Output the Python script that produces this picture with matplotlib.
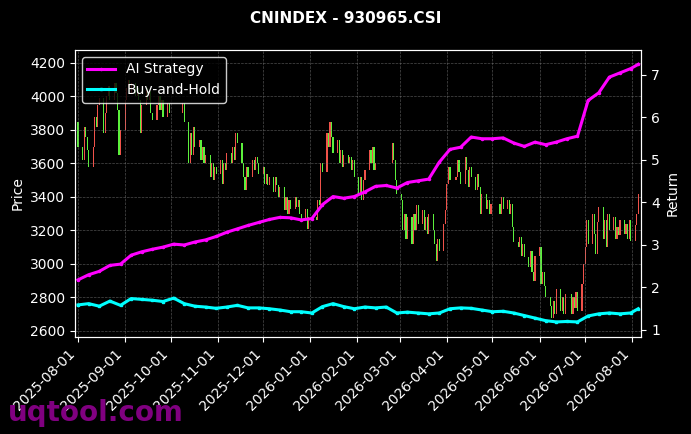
import pandas as pd
import matplotlib
matplotlib.use("Agg")
import matplotlib.pyplot as plt
import matplotlib.dates as mdates

title = "CNINDEX - 930965.CSI"

# exchange holidays removed from the weekday calendar
holidays = ["2025-10-01", "2025-10-02", "2025-10-03", "2025-10-06", "2025-10-07", "2025-10-08",
            "2026-01-01", "2026-01-02",
            "2026-02-16", "2026-02-17", "2026-02-18", "2026-02-19", "2026-02-20", "2026-02-23",
            "2026-04-06", "2026-05-01", "2026-05-04", "2026-05-05", "2026-06-19"]

# daily closes, month by month
first_open = 3850
close_2025_08 = [3700, 3620, 3820, 3760, 3680, 3580, 3700, 3880, 3820, 3950, 3990,
                 3780, 3900, 4000, 4060, 3980, 4080, 4020, 3920, 3650, 3800]
close_2025_09 = [3980, 4050, 4100, 4020, 4080, 4000, 4050, 3980, 3780, 3950, 4050,
                 3980, 4030, 3900, 3860, 3950, 4000, 3920, 3980, 3880, 3960, 3900]
close_2025_10 = [3960, 3850, 3600, 3780, 3650, 3820, 3700, 3740, 3620, 3700, 3600,
                 3650, 3520, 3600, 3500, 3580, 3540]
close_2025_11 = [3620, 3480, 3600, 3560, 3660, 3600, 3700, 3620, 3780, 3720, 3600,
                 3520, 3440, 3580, 3520, 3620, 3560, 3640, 3600, 3540]
close_2025_12 = [3580, 3480, 3540, 3470, 3520, 3430, 3520, 3470, 3400, 3460, 3320,
                 3400, 3300, 3380, 3330, 3400, 3340, 3380, 3300, 3260, 3330, 3210, 3280]
close_2026_01 = [3260, 3380, 3350, 3600, 3550, 3780, 3700, 3850, 3760, 3660, 3740,
                 3600, 3680, 3580, 3650, 3600, 3640, 3560, 3620, 3520]
close_2026_02 = [3420, 3520, 3380, 3500, 3560, 3680, 3600, 3700, 3560, 3600, 3720,
                 3620, 3500, 3420]
close_2026_03 = [3380, 3200, 3300, 3150, 3280, 3120, 3300, 3200, 3350, 3240, 3320,
                 3200, 3280, 3180, 3300, 3200, 3120, 3020, 3150, 3080, 3240, 3320]
close_2026_04 = [3480, 3580, 3500, 3520, 3620, 3550, 3480, 3640, 3560, 3460, 3580,
                 3520, 3440, 3540, 3460, 3300, 3420, 3330, 3380, 3300, 3360]
close_2026_05 = [3300, 3400, 3330, 3380, 3300, 3360, 3220, 3130, 3100, 3160, 3050,
                 3120, 3040, 2980, 3080, 2950, 2900, 3050]
close_2026_06 = [3100, 2880, 2950, 2870, 2800, 2750, 2680, 2780, 2700, 2850, 2720,
                 2800, 2700, 2820, 2700, 2800, 2740, 2830, 2720, 2880, 3000]
close_2026_07 = [3100, 3260, 3120, 3300, 3180, 3060, 3250, 3340, 3150, 3260, 3100,
                 3300, 3200, 3280, 3150, 3220, 3170, 3260, 3180, 3240, 3150, 3260, 3140]
close_2026_08 = [3230, 3300, 3420]

# weekly cumulative returns
ai_strategy = [2.18, 2.30, 2.38, 2.52, 2.55, 2.76, 2.84, 2.90, 2.95, 3.02, 3.00,
               3.07, 3.12, 3.20, 3.30, 3.38, 3.46, 3.53, 3.60, 3.65, 3.64, 3.59,
               3.62, 3.95, 4.14, 4.10, 4.14, 4.25, 4.38, 4.40, 4.34, 4.47, 4.51,
               4.55, 4.95, 5.25, 5.30, 5.54, 5.50, 5.50, 5.52, 5.40, 5.32, 5.42,
               5.36, 5.42, 5.50, 5.56, 6.40, 6.58, 6.95, 7.05, 7.15, 7.25]
buy_and_hold = [1.59, 1.62, 1.56, 1.68, 1.58, 1.74, 1.72, 1.70, 1.67, 1.75, 1.62,
                1.56, 1.54, 1.51, 1.54, 1.58, 1.52, 1.52, 1.50, 1.47, 1.43, 1.43,
                1.40, 1.55, 1.62, 1.55, 1.50, 1.54, 1.52, 1.54, 1.40, 1.42, 1.40,
                1.38, 1.40, 1.50, 1.52, 1.51, 1.47, 1.43, 1.44, 1.40, 1.34, 1.28,
                1.22, 1.19, 1.20, 1.19, 1.33, 1.38, 1.40, 1.38, 1.40, 1.50]

closes = (close_2025_08 + close_2025_09 + close_2025_10 + close_2025_11 + close_2025_12 +
          close_2026_01 + close_2026_02 + close_2026_03 + close_2026_04 + close_2026_05 +
          close_2026_06 + close_2026_07 + close_2026_08)
opens = [first_open] + closes[:-1]

days = pd.bdate_range("2025-08-01", "2026-08-05")
days = days[~days.isin(pd.to_datetime(holidays))]
n = min(len(days), len(closes))
days = days[:n]
closes = closes[:n]
opens = opens[:n]

weeks = pd.date_range("2025-08-01", periods=53, freq="7D").append(pd.DatetimeIndex(["2026-08-05"]))

up_color = "#f0524a"
down_color = "#5cf03c"
colors = [up_color if c >= o else down_color for o, c in zip(opens, closes)]
heights = [c - o for o, c in zip(opens, closes)]

fig, ax1 = plt.subplots(figsize=(6.91, 4.34), dpi=100)
fig.patch.set_facecolor("black")
ax1.set_facecolor("black")
plt.subplots_adjust(left=0.1085, right=0.928, top=0.885, bottom=0.2235)

ax1.bar(days, heights, bottom=opens, width=0.75, color=colors, linewidth=0)
ax1.set_ylim(2564, 4278)
ax1.set_xlim(pd.Timestamp("2025-07-30"), pd.Timestamp("2026-08-07"))
ax1.set_ylabel("Price", color="white", fontsize=10)
ax1.grid(True, color="gray", linestyle="--", linewidth=0.5, alpha=0.6)

ax2 = ax1.twinx()
ax2.plot(weeks, ai_strategy, color="#ff00ff", linewidth=2.2, marker=".", markersize=3,
         label="AI Strategy")
ax2.plot(weeks, buy_and_hold, color="#00ffff", linewidth=2.2, marker="s", markersize=2,
         label="Buy-and-Hold")
ax2.set_ylim(0.835, 7.59)
ax2.set_ylabel("Return", color="white", fontsize=10)

ax1.xaxis.set_major_locator(mdates.MonthLocator())
ax1.xaxis.set_major_formatter(mdates.DateFormatter("%Y-%m-%d"))
plt.setp(ax1.get_xticklabels(), rotation=45, ha="right")

for ax in (ax1, ax2):
    ax.tick_params(colors="white", labelsize=10)
    for spine in ax.spines.values():
        spine.set_color("white")

leg = ax2.legend(loc="upper left", facecolor="black", edgecolor="white",
                 labelcolor="white", fontsize=10, framealpha=0.8)

fig.suptitle(title, color="white", fontsize=11, fontweight="bold", y=0.975)
fig.text(0.012, 0.03, "uqtool.com", color="purple", fontsize=20, fontweight="bold")

plt.savefig("out.png", dpi=100, facecolor=fig.get_facecolor())
